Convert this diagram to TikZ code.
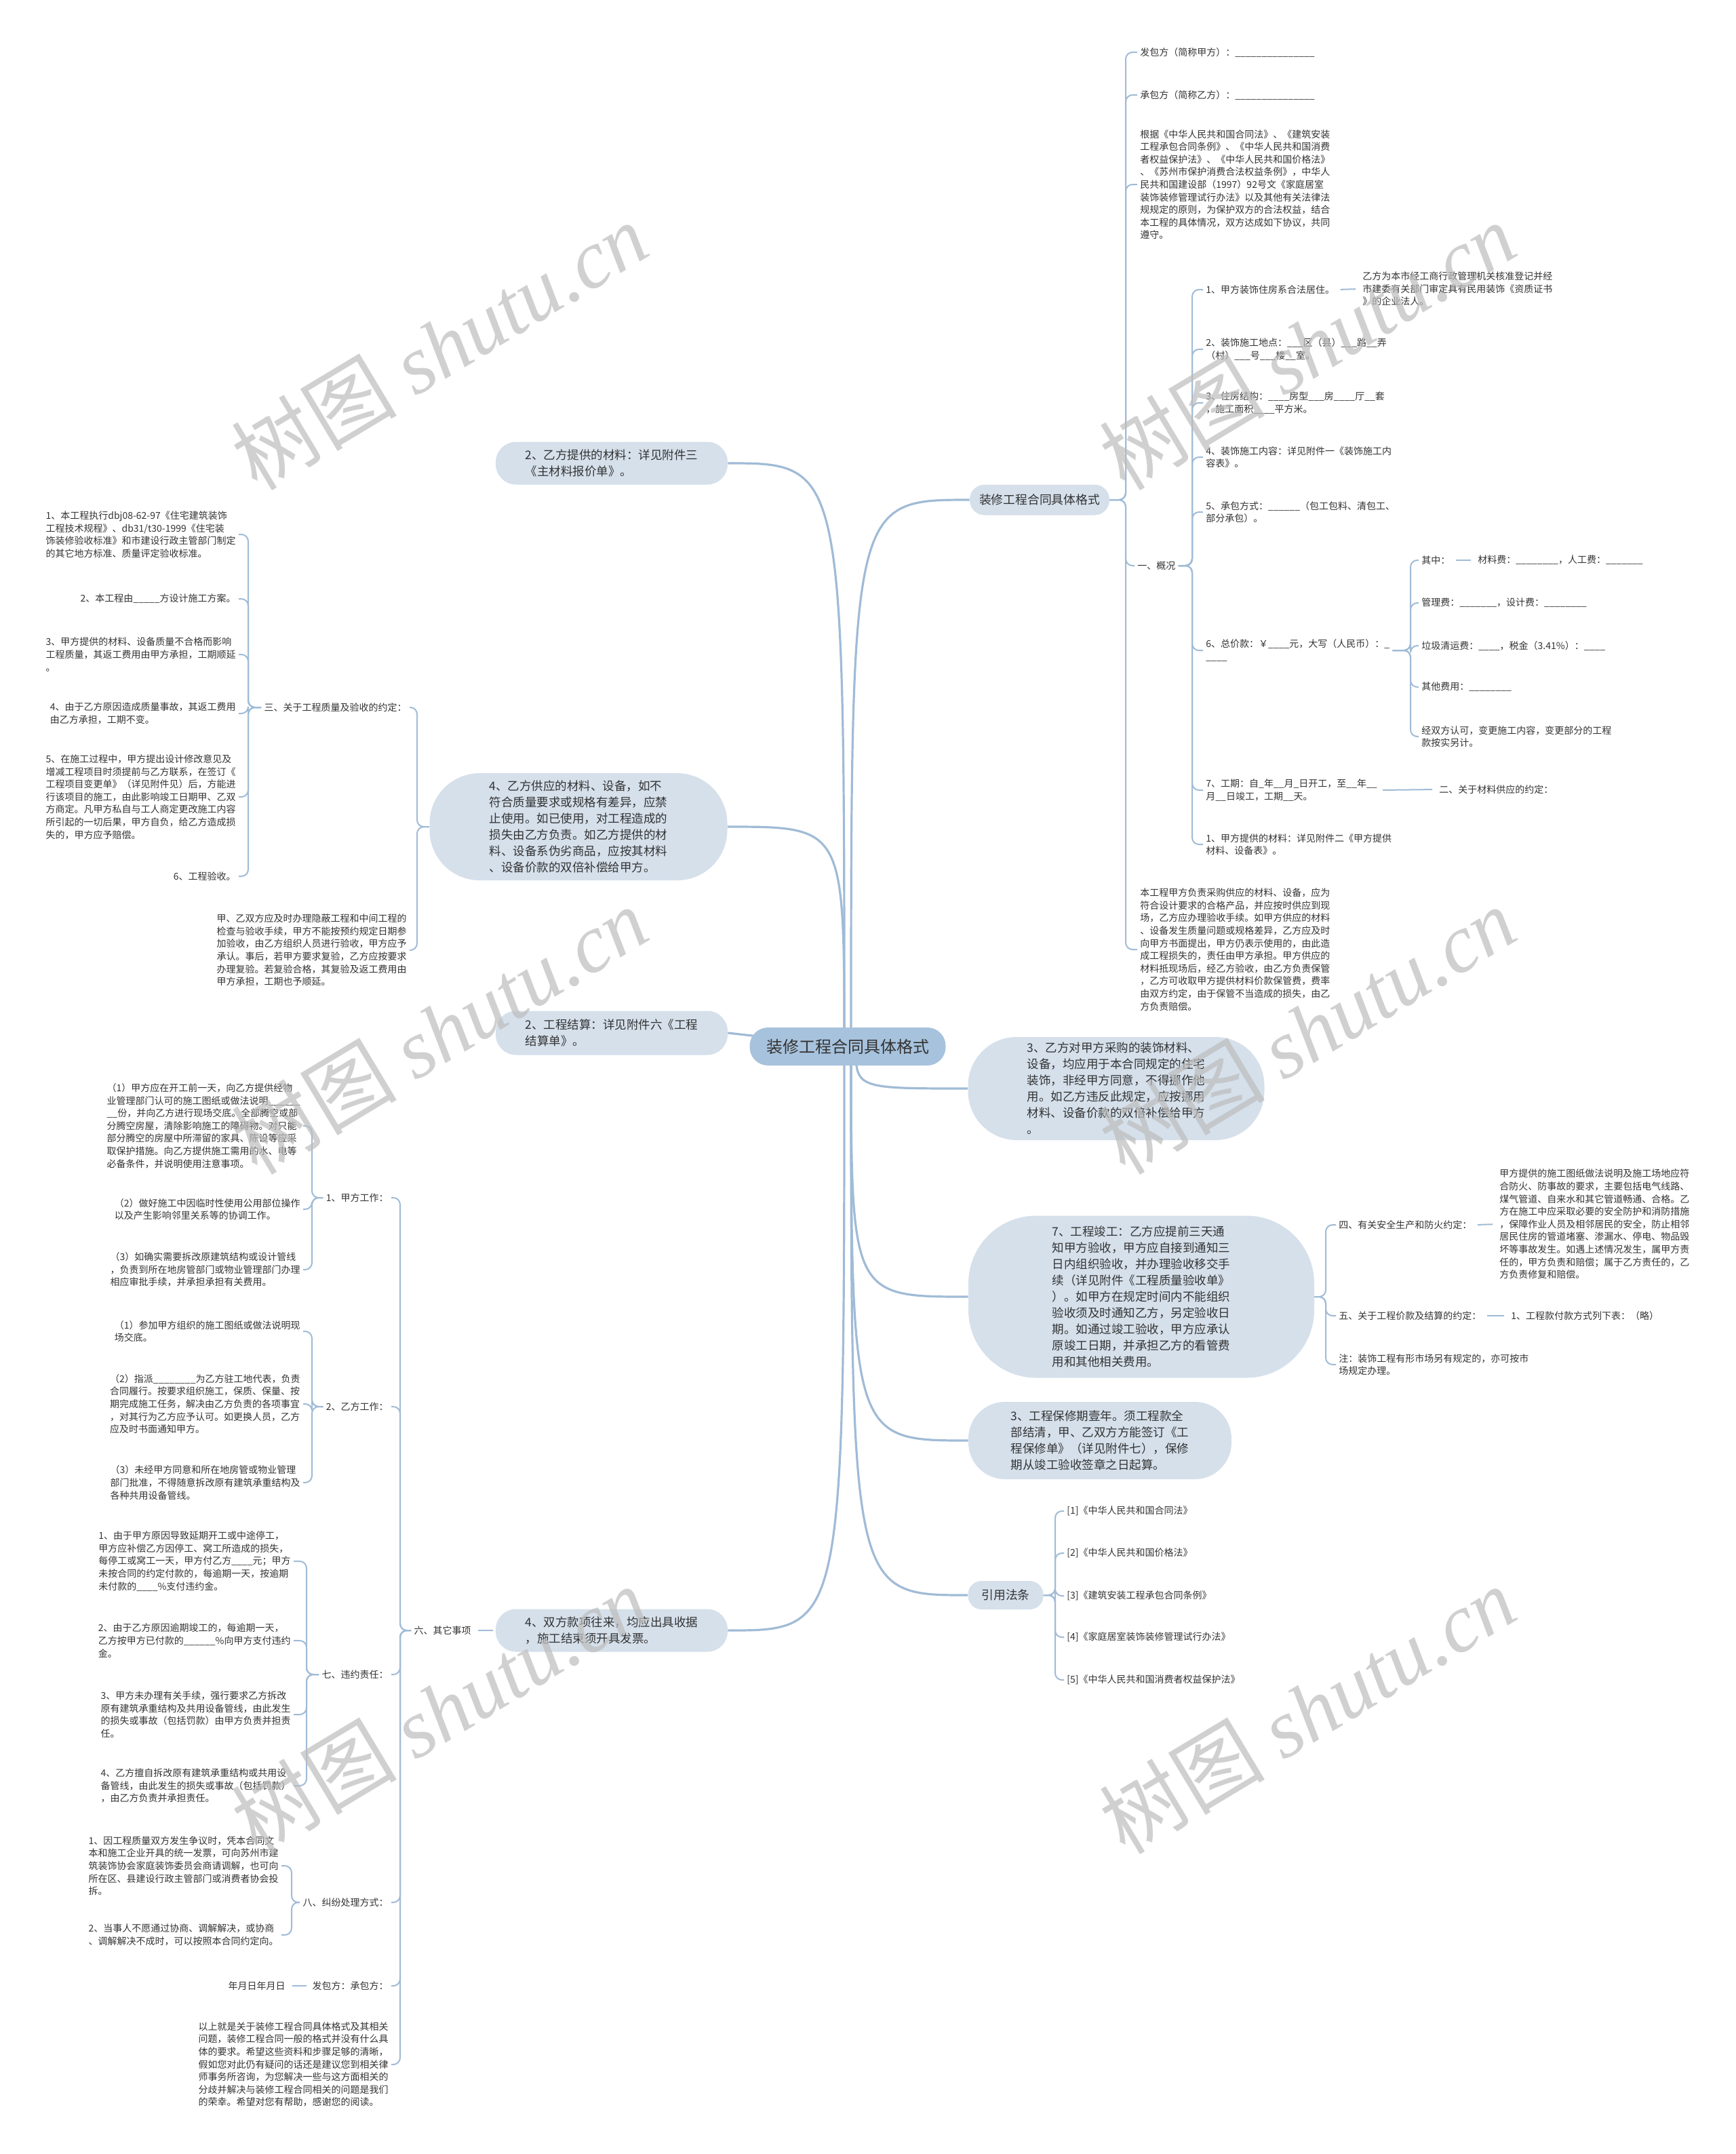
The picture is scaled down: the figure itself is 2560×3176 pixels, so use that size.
\documentclass[tikz,border=0pt]{standalone}
\usepackage{fontspec}
\setmainfont{Noto Sans CJK SC}
\newfontfamily\wmlatin{Liberation Serif}
\pgfdeclarelayer{bg}
\pgfsetlayers{bg,main}
\definecolor{linec}{HTML}{A0BBD6}
\definecolor{bubc}{HTML}{D5E0EB}
\definecolor{rootc}{HTML}{A7C2DC}
\definecolor{txtc}{HTML}{333333}
\definecolor{wmc}{HTML}{BDBDBD}
\begin{document}
\begin{tikzpicture}[x=0.5pt,y=-0.5pt,
 txt/.style={font=\fontsize{7}{9.3}\selectfont,text=txtc,align=left,inner xsep=2pt,inner ysep=1pt},
 bub/.style={fill=bubc,text=txtc,font=\fontsize{8.75}{12}\selectfont,align=left,inner sep=0pt},
 rootn/.style={fill=rootc,text=txtc,font=\fontsize{12}{14}\selectfont,inner sep=0pt},
 br/.style={draw=linec,line width=1pt,rounded corners=5pt},
 dashln/.style={draw=linec,line width=1pt,shorten <=2pt,shorten >=3pt},
 mainln/.style={draw=linec,line width=1.6pt},
 wm/.style={text=wmc,opacity=0.7,rotate=31,font=\fontsize{61}{61}\selectfont,inner sep=0pt}]
\useasboundingbox (0,0) rectangle (2560,3176);
\begin{pgfonlayer}{bg}
\fill[white] (0,0) rectangle (2560,3176);
\end{pgfonlayer}

% ---------- root and first level ----------
\node[rootn,minimum width=144.5pt,minimum height=28pt,rounded corners=13.5pt] (root) at (1250,1543) {装修工程合同具体格式};
\node[bub,minimum width=103pt,minimum height=22.5pt,rounded corners=11pt,font=\fontsize{8.9}{12}\selectfont] (A) at (1533,737) {装修工程合同具体格式};
\node[bub,minimum width=218.5pt,minimum height=76pt,rounded corners=36pt] (B) at (1646,1605) {3、乙方对甲方采购的装饰材料、\\设备，均应用于本合同规定的住宅\\装饰，非经甲方同意，不得挪作他\\用。如乙方违反此规定，应按挪用\\材料、设备价款的双倍补偿给甲方\\。};
\node[bub,minimum width=255pt,minimum height=119.5pt,rounded corners=50pt] (C) at (1683,1912) {7、工程竣工：乙方应提前三天通\\知甲方验收，甲方应自接到通知三\\日内组织验收，并办理验收移交手\\续（详见附件《工程质量验收单》\\）。如甲方在规定时间内不能组织\\验收须及时通知乙方，另定验收日\\期。如通过竣工验收，甲方应承认\\原竣工日期，并承担乙方的看管费\\用和其他相关费用。};
\node[bub,minimum width=194pt,minimum height=57pt,rounded corners=27pt] (D) at (1622,2124) {3、工程保修期壹年。须工程款全\\部结清，甲、乙双方方能签订《工\\程保修单》（详见附件七），保修\\期从竣工验收签章之日起算。};
\node[bub,minimum width=55.5pt,minimum height=21pt,rounded corners=10pt,font=\fontsize{8.9}{12}\selectfont] (E) at (1483,2352) {引用法条};
\node[bub,minimum width=171pt,minimum height=31.5pt,rounded corners=15pt] (bub2) at (902,683) {2、乙方提供的材料：详见附件三\\《主材料报价单》。};
\node[bub,minimum width=219.5pt,minimum height=79pt,rounded corners=37pt] (gy) at (853,1219) {4、乙方供应的材料、设备，如不\\符合质量要求或规格有差异，应禁\\止使用。如已使用，对工程造成的\\损失由乙方负责。如乙方提供的材\\料、设备系伪劣商品，应按其材料\\、设备价款的双倍补偿给甲方。};
\node[bub,minimum width=171pt,minimum height=32.5pt,rounded corners=15pt] (gcjs) at (902,1523) {2、工程结算：详见附件六《工程\\结算单》。};
\node[bub,minimum width=171pt,minimum height=31.5pt,rounded corners=15pt] (sf) at (902,2404) {4、双方款项往来，均应出具收据\\，施工结束须开具发票。};

% ---------- right: A children ----------
\coordinate (spA) at (1660,0);
\node[txt,anchor=west] (fbf) at (1677,77) {发包方（简称甲方）：\_\_\_\_\_\_\_\_\_\_\_\_\_\_\_};
\node[txt,anchor=west] (cbf) at (1677,140) {承包方（简称乙方）：\_\_\_\_\_\_\_\_\_\_\_\_\_\_\_};
\node[txt,anchor=west] (gj) at (1677,272) {根据《中华人民共和国合同法》、《建筑安装\\工程承包合同条例》、《中华人民共和国消费\\者权益保护法》、《中华人民共和国价格法》\\、《苏州市保护消费合法权益条例》，中华人\\民共和国建设部（1997）92号文《家庭居室\\装饰装修管理试行办法》以及其他有关法律法\\规规定的原则，为保护双方的合法权益，结合\\本工程的具体情况，双方达成如下协议，共同\\遵守。};
\node[txt,anchor=west] (gk) at (1673,834) {一、概况};
\node[txt,anchor=west] (bgc) at (1677,1400) {本工程甲方负责采购供应的材料、设备，应为\\符合设计要求的合格产品，并应按时供应到现\\场，乙方应办理验收手续。如甲方供应的材料\\、设备发生质量问题或规格差异，乙方应及时\\向甲方书面提出，甲方仍表示使用的，由此造\\成工程损失的，责任由甲方承担。甲方供应的\\材料抵现场后，经乙方验收，由乙方负责保管\\，乙方可收取甲方提供材料价款保管费，费率\\由双方约定，由于保管不当造成的损失，由乙\\方负责赔偿。};

% 一、概况 children
\coordinate (spK) at (1758,0);
\node[txt,anchor=west] (k1) at (1774,427) {1、甲方装饰住房系合法居住。};
\node[txt,anchor=west] (k1c) at (2005,426) {乙方为本市经工商行政管理机关核准登记并经\\市建委有关部门审定具有民用装饰《资质证书\\》的企业法人。};
\node[txt,anchor=west] (k2) at (1774,515) {2、装饰施工地点：\_\_\_区（县）\_\_\_路\_\_弄\\（村）\_\_\_号\_\_\_楼\_\_室。};
\node[txt,anchor=west] (k3) at (1774,594) {3、住房结构：\_\_\_\_房型\_\_\_房\_\_\_\_厅\_\_套\\，施工面积\_\_\_\_平方米。};
\node[txt,anchor=west] (k4) at (1774,674) {4、装饰施工内容：详见附件一《装饰施工内\\容表》。};
\node[txt,anchor=west] (k5) at (1774,755) {5、承包方式：\_\_\_\_\_\_（包工包料、清包工、\\部分承包）。};
\node[txt,anchor=west] (k6) at (1774,959) {6、总价款：￥\_\_\_\_元，大写（人民币）：\_\\\_\_\_\_};
\node[txt,anchor=west] (k7) at (1774,1165) {7、工期：自\_年\_\_月\_日开工，至\_\_年\_\_\\月\_\_日竣工，工期\_\_天。};
\node[txt,anchor=west] (k7c) at (2118,1164) {二、关于材料供应的约定：};
\node[txt,anchor=west] (k8) at (1774,1245) {1、甲方提供的材料：详见附件二《甲方提供\\材料、设备表》。};

% 6 children
\coordinate (spQ) at (2080,0);
\node[txt,anchor=west] (q1) at (2092,826) {其中：};
\node[txt,anchor=west] (q1c) at (2175,826) {材料费：\_\_\_\_\_\_\_\_，人工费：\_\_\_\_\_\_\_};
\node[txt,anchor=west] (q2) at (2092,889) {管理费：\_\_\_\_\_\_\_，设计费：\_\_\_\_\_\_\_\_};
\node[txt,anchor=west] (q3) at (2092,952) {垃圾清运费：\_\_\_\_，税金（3.41\%）：\_\_\_\_};
\node[txt,anchor=west] (q4) at (2092,1013) {其他费用：\_\_\_\_\_\_\_\_};
\node[txt,anchor=west] (q5) at (2092,1086) {经双方认可，变更施工内容，变更部分的工程\\款按实另计。};

% C children
\coordinate (spC) at (1955,0);
\node[txt,anchor=west] (s4) at (1970,1806) {四、有关安全生产和防火约定：};
\node[txt,anchor=west] (s4c) at (2207,1805) {甲方提供的施工图纸做法说明及施工场地应符\\合防火、防事故的要求，主要包括电气线路、\\煤气管道、自来水和其它管道畅通、合格。乙\\方在施工中应采取必要的安全防护和消防措施\\，保障作业人员及相邻居民的安全，防止相邻\\居民住房的管道堵塞、渗漏水、停电、物品毁\\坏等事故发生。如遇上述情况发生，属甲方责\\任的，甲方负责和赔偿；属于乙方责任的，乙\\方负责修复和赔偿。};
\node[txt,anchor=west] (s5) at (1970,1940) {五、关于工程价款及结算的约定：};
\node[txt,anchor=west] (s5c) at (2224,1940) {1、工程款付款方式列下表：（略）};
\node[txt,anchor=west] (s6) at (1970,2012) {注：装饰工程有形市场另有规定的，亦可按市\\场规定办理。};

% E children
\coordinate (spE) at (1556,0);
\node[txt,anchor=west] (f1) at (1569,2228) {[1]《中华人民共和国合同法》};
\node[txt,anchor=west] (f2) at (1569,2290) {[2]《中华人民共和国价格法》};
\node[txt,anchor=west] (f3) at (1569,2353) {[3]《建筑安装工程承包合同条例》};
\node[txt,anchor=west] (f4) at (1569,2414) {[4]《家庭居室装饰装修管理试行办法》};
\node[txt,anchor=west] (f5) at (1569,2477) {[5]《中华人民共和国消费者权益保护法》};

% ---------- left: gy children ----------
\coordinate (spG) at (615,0);
\node[txt,anchor=east] (san) at (604,1043) {三、关于工程质量及验收的约定：};
\node[txt,anchor=east] (jy) at (604,1401) {甲、乙双方应及时办理隐蔽工程和中间工程的\\检查与验收手续，甲方不能按预约规定日期参\\加验收，由乙方组织人员进行验收，甲方应予\\承认。事后，若甲方要求复验，乙方应按要求\\办理复验。若复验合格，其复验及返工费用由\\甲方承担，工期也予顺延。};
\coordinate (spS) at (366,0);
\node[txt,anchor=east] (t1) at (352,788) {1、本工程执行dbj08-62-97《住宅建筑装饰\\工程技术规程》、db31/t30-1999《住宅装\\饰装修验收标准》和市建设行政主管部门制定\\的其它地方标准、质量评定验收标准。};
\node[txt,anchor=east] (t2) at (352,883) {2、本工程由\_\_\_\_\_方设计施工方案。};
\node[txt,anchor=east] (t3) at (352,965) {3、甲方提供的材料、设备质量不合格而影响\\工程质量，其返工费用由甲方承担，工期顺延\\。};
\node[txt,anchor=east] (t4) at (352,1052) {4、由于乙方原因造成质量事故，其返工费用\\由乙方承担，工期不变。};
\node[txt,anchor=east] (t5) at (352,1175) {5、在施工过程中，甲方提出设计修改意见及\\增减工程项目时须提前与乙方联系，在签订《\\工程项目变更单》（详见附件见）后，方能进\\行该项目的施工，由此影响竣工日期甲、乙双\\方商定。凡甲方私自与工人商定更改施工内容\\所引起的一切后果，甲方自负，给乙方造成损\\失的，甲方应予赔偿。};
\node[txt,anchor=east] (t6) at (352,1292) {6、工程验收。};

% ---------- left: sf children ----------
\node[txt,anchor=east] (liu) at (699,2404) {六、其它事项};
\coordinate (spL) at (590,0);
\node[txt,anchor=east] (j1) at (577,1766) {1、甲方工作：};
\node[txt,anchor=east] (j2) at (577,2074) {2、乙方工作：};
\node[txt,anchor=east] (j7) at (577,2469) {七、违约责任：};
\node[txt,anchor=east] (j8) at (577,2805) {八、纠纷处理方式：};
\node[txt,anchor=east] (jfb) at (577,2928) {发包方：承包方：};
\node[txt,anchor=east] (nyr) at (425,2928) {年月日年月日};
\node[txt,anchor=east] (jend) at (577,3044) {以上就是关于装修工程合同具体格式及其相关\\问题，装修工程合同一般的格式并没有什么具\\体的要求。希望这些资料和步骤足够的清晰，\\假如您对此仍有疑问的话还是建议您到相关律\\师事务所咨询，为您解决一些与这方面相关的\\分歧并解决与装修工程合同相关的问题是我们\\的荣幸。希望对您有帮助，感谢您的阅读。};

\coordinate (spJ1) at (460,0);
\node[txt,anchor=east] (y1) at (447,1660) {（1）甲方应在开工前一天，向乙方提供经物\\业管理部门认可的施工图纸或做法说明\_\_\_\_\_\_\\\_\_份，并向乙方进行现场交底。全部腾空或部\\分腾空房屋，清除影响施工的障碍物。对只能\\部分腾空的房屋中所滞留的家具、陈设等应采\\取保护措施。向乙方提供施工需用的水、电等\\必备条件，并说明使用注意事项。};
\node[txt,anchor=east] (y2) at (447,1783) {（2）做好施工中因临时性使用公用部位操作\\以及产生影响邻里关系等的协调工作。};
\node[txt,anchor=east] (y3) at (447,1872) {（3）如确实需要拆改原建筑结构或设计管线\\，负责到所在地房管部门或物业管理部门办理\\相应审批手续，并承担承担有关费用。};
\node[txt,anchor=east] (z1) at (447,1963) {（1）参加甲方组织的施工图纸或做法说明现\\场交底。};
\node[txt,anchor=east] (z2) at (447,2070) {（2）指派\_\_\_\_\_\_\_\_为乙方驻工地代表，负责\\合同履行。按要求组织施工，保质、保量、按\\期完成施工任务，解决由乙方负责的各项事宜\\，对其行为乙方应予认可。如更换人员，乙方\\应及时书面通知甲方。};
\node[txt,anchor=east] (z3) at (447,2186) {（3）未经甲方同意和所在地房管或物业管理\\部门批准，不得随意拆改原有建筑承重结构及\\各种共用设备管线。};

\coordinate (spJ7) at (452,0);
\node[txt,anchor=east] (w1) at (433,2302) {1、由于甲方原因导致延期开工或中途停工，\\甲方应补偿乙方因停工、窝工所造成的损失，\\每停工或窝工一天，甲方付乙方\_\_\_\_元；甲方\\未按合同的约定付款的，每逾期一天，按逾期\\未付款的\_\_\_\_\%支付违约金。};
\node[txt,anchor=east] (w2) at (433,2419) {2、由于乙方原因逾期竣工的，每逾期一天，\\乙方按甲方已付款的\_\_\_\_\_\_\%向甲方支付违约\\金。};
\node[txt,anchor=east] (w3) at (433,2528) {3、甲方未办理有关手续，强行要求乙方拆改\\原有建筑承重结构及共用设备管线，由此发生\\的损失或事故（包括罚款）由甲方负责并担责\\任。};
\node[txt,anchor=east] (w4) at (433,2633) {4、乙方擅自拆改原有建筑承重结构或共用设\\备管线，由此发生的损失或事故（包括罚款）\\，由乙方负责并承担责任。};

\coordinate (spJ8) at (430,0);
\node[txt,anchor=east] (v1) at (415,2751) {1、因工程质量双方发生争议时，凭本合同文\\本和施工企业开具的统一发票，可向苏州市建\\筑装饰协会家庭装饰委员会商请调解，也可向\\所在区、县建设行政主管部门或消费者协会投\\拆。};
\node[txt,anchor=east] (v2) at (415,2853) {2、当事人不愿通过协商、调解解决，或协商\\、调解解决不成时，可以按照本合同约定向。};

% ---------- connectors ----------
\coordinate (rt) at (1255,1543);
\coordinate (lt) at (1245,1543);
\coordinate (rb) at (1262,1543);
\begin{pgfonlayer}{bg}
\draw[mainln] (rt) .. controls (rt |- A.west) .. (A.west);
\draw[mainln] (lt) .. controls (lt |- bub2.east) .. (bub2.east);
\draw[mainln] (lt) .. controls (lt |- gy.east) .. (gy.east);
\draw[mainln] (root.center) -- (gcjs.east);
\draw[mainln] (rb) .. controls (rb |- B.west) .. (B.west);
\draw[mainln] (rt) .. controls (rt |- C.west) .. (C.west);
\draw[mainln] (rt) .. controls (rt |- D.west) .. (D.west);
\draw[mainln] (rt) .. controls (rt |- E.west) .. (E.west);
\draw[mainln] (lt) .. controls (lt |- sf.east) .. (sf.east);
\end{pgfonlayer}

\foreach \c in {fbf,cbf,gj,gk,bgc} \draw[br] (A.east) -- (A.east -| spA) |- (\c.west);
\foreach \c in {k1,k2,k3,k4,k5,k6,k7,k8} \draw[br] (gk.east) -- (gk.east -| spK) |- (\c.west);
\foreach \c in {q1,q2,q3,q4,q5} \draw[br] (k6.east) -- (k6.east -| spQ) |- (\c.west);
\draw[dashln] (k1.east) -- (k1c.west);
\draw[dashln] (k7.east) -- (k7c.west);
\draw[dashln] (q1.east) -- (q1c.west);
\foreach \c in {s4,s5,s6} \draw[br] (C.east) -- (C.east -| spC) |- (\c.west);
\draw[dashln] (s4.east) -- (s4c.west);
\draw[dashln] (s5.east) -- (s5c.west);
\foreach \c in {f1,f2,f3,f4,f5} \draw[br] (E.east) -- (E.east -| spE) |- (\c.west);

\foreach \c in {san,jy} \draw[br] (gy.west) -- (gy.west -| spG) |- (\c.east);
\foreach \c in {t1,t2,t3,t4,t5,t6} \draw[br] (san.west) -- (san.west -| spS) |- (\c.east);
\draw[dashln] (sf.west) -- (liu.east);
\foreach \c in {j1,j2,j7,j8,jfb,jend} \draw[br] (liu.west) -- (liu.west -| spL) |- (\c.east);
\foreach \c in {y1,y2,y3} \draw[br] (j1.west) -- (j1.west -| spJ1) |- (\c.east);
\foreach \c in {z1,z2,z3} \draw[br] (j2.west) -- (j2.west -| spJ1) |- (\c.east);
\foreach \c in {w1,w2,w3,w4} \draw[br] (j7.west) -- (j7.west -| spJ7) |- (\c.east);
\foreach \c in {v1,v2} \draw[br] (j8.west) -- (j8.west -| spJ8) |- (\c.east);
\draw[dashln] (jfb.west) -- (nyr.east);

% ---------- watermarks ----------
\foreach \p/\n in {{(648,510)}/wa,{(1928,510)}/wb,{(648,1519)}/wc,{(1928,1519)}/wd,{(648,2521)}/we,{(1928,2521)}/wf}
  \node[wm] (\n) at \p {树图 {\wmlatin\itshape shutu.cn}};
\end{tikzpicture}
\end{document}
